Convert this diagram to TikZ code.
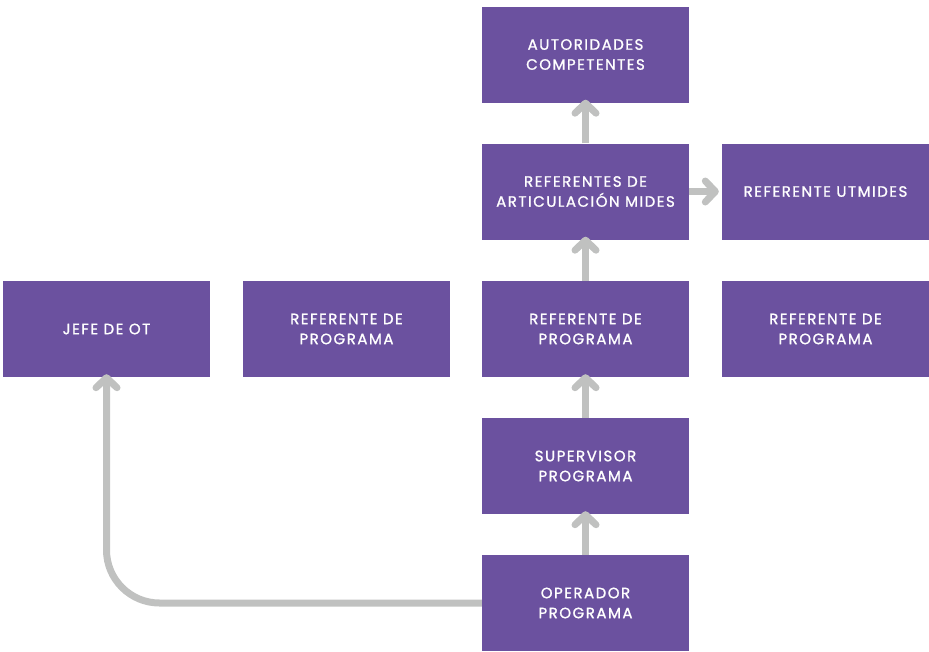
\documentclass[tikz,border=0pt]{standalone}
\usepackage{fontspec}
\setmainfont{Poppins}[LetterSpace=10, FakeBold=1.2]
\usetikzlibrary{arrows.meta}
\definecolor{boxpurple}{HTML}{6B519F}
\definecolor{arrowgray}{HTML}{C0C1C0}
\begin{document}
\begin{tikzpicture}[x=1pt,y=-1pt,
  orgbox/.style={fill=boxpurple, draw=none, minimum width=207pt, minimum height=96pt,
    text=white, align=center, font=\fontsize{15}{20}\selectfont, inner sep=0pt},
  conn/.style={draw=arrowgray, line width=7pt,
    -{Straight Barb[length=10pt,width=21pt,round]}}]
\useasboundingbox (0,0) rectangle (929,651);
\node[orgbox] (aut) at (585.5,54.5) {AUTORIDADES\\COMPETENTES};
\node[orgbox] (art) at (585.5,191.5) {REFERENTES DE\\ARTICULACIÓN MIDES};
\node[orgbox] (utm) at (825.5,191.5) {REFERENTE UTMIDES};
\node[orgbox] (jefe) at (106.5,329) {JEFE DE OT};
\node[orgbox] (rp1) at (346.5,329) {REFERENTE DE\\PROGRAMA};
\node[orgbox] (rp2) at (585.5,329) {REFERENTE DE\\PROGRAMA};
\node[orgbox] (rp3) at (825.5,329) {REFERENTE DE\\PROGRAMA};
\node[orgbox] (sup) at (585.5,466) {SUPERVISOR\\PROGRAMA};
\node[orgbox] (op) at (585.5,603) {OPERADOR\\PROGRAMA};
\draw[conn] (op.north) -- ([yshift=3pt]sup.south);
\draw[conn] (sup.north) -- ([yshift=3pt]rp2.south);
\draw[conn] (rp2.north) -- ([yshift=3pt]art.south);
\draw[conn] (art.north) -- ([yshift=3pt]aut.south);
\draw[conn] (art.east) -- ([xshift=-3pt]utm.west);
\draw[conn, rounded corners=53pt] (op.west) -| ([yshift=3pt]jefe.south);
\end{tikzpicture}
\end{document}
